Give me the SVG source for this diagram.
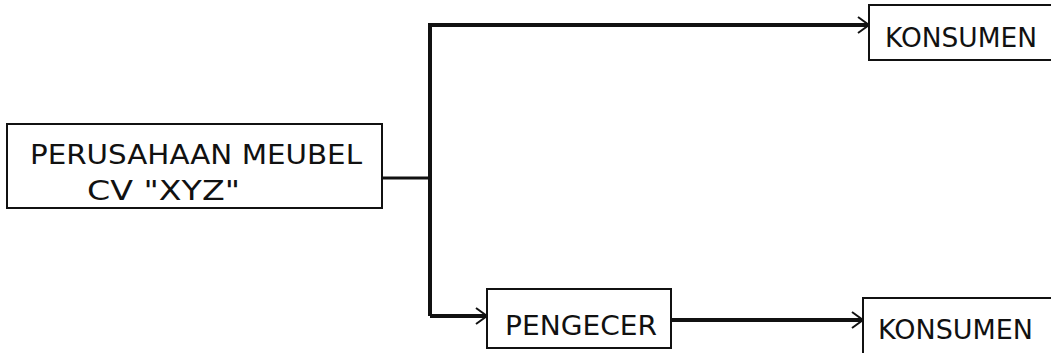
<svg xmlns="http://www.w3.org/2000/svg" width="1051" height="353" viewBox="0 0 1051 353">
<style>
.box{fill:#fff;stroke:#111;stroke-width:2}
.lbl{font-family:"DejaVu Sans","Liberation Sans",Arial,sans-serif;font-size:27px;fill:#111}
.con{fill:none;stroke:#111;stroke-width:4}
.thin{fill:none;stroke:#111;stroke-width:3}
</style>
<defs>
<marker id="arr" markerWidth="16" markerHeight="20" refX="14" refY="10" orient="auto" markerUnits="userSpaceOnUse">
<path d="M3,2 L14,10 L3,18" fill="none" stroke="#111" stroke-width="2"/>
</marker>
</defs>
<rect width="1051" height="353" fill="#fff"/>
<g id="connectors">
<path class="thin" d="M382,178 L430,178"/>
<path class="con" d="M430,316 L430,25 L869,25" marker-end="url(#arr)"/>
<path class="con" d="M430,316 L487,316" marker-end="url(#arr)"/>
<path class="con" d="M671,320 L863,320" marker-end="url(#arr)"/>
</g>
<g id="perusahaan">
<rect class="box" x="7" y="124" width="375" height="84"/>
<text class="lbl" x="30" y="164" font-size="25" textLength="332" lengthAdjust="spacingAndGlyphs">PERUSAHAAN MEUBEL</text>
<text class="lbl" x="87" y="200" font-size="25" textLength="153" lengthAdjust="spacingAndGlyphs">CV "XYZ"</text>
</g>
<g id="konsumen1">
<rect class="box" x="869" y="5" width="190" height="55"/>
<text class="lbl" x="885" y="47" textLength="152" lengthAdjust="spacingAndGlyphs">KONSUMEN</text>
</g>
<g id="pengecer">
<rect class="box" x="487" y="289" width="184" height="59"/>
<text class="lbl" x="505" y="335" textLength="152" lengthAdjust="spacingAndGlyphs">PENGECER</text>
</g>
<g id="konsumen2">
<rect class="box" x="863" y="298" width="195" height="60"/>
<text class="lbl" x="878" y="339" textLength="155" lengthAdjust="spacingAndGlyphs">KONSUMEN</text>
</g>
</svg>
